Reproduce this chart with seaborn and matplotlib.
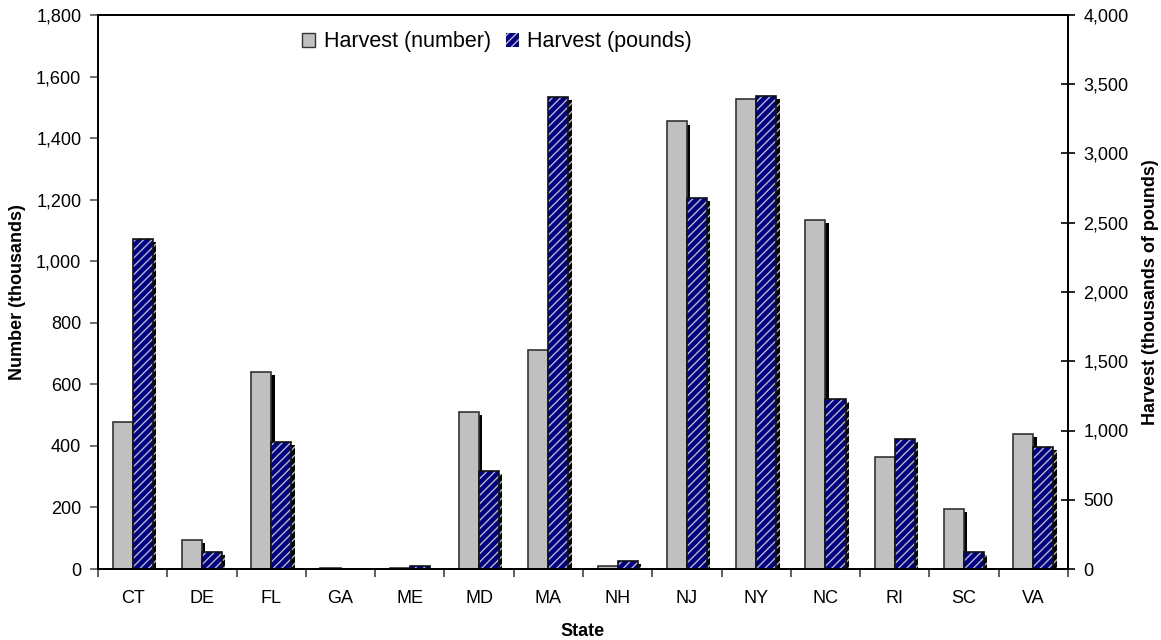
import matplotlib
matplotlib.use('Agg')
import matplotlib.pyplot as plt
import matplotlib.patheffects as pe
from matplotlib.patches import Patch
from matplotlib.ticker import FuncFormatter
import pandas as pd
import seaborn as sns

states = ['CT', 'DE', 'FL', 'GA', 'ME', 'MD', 'MA', 'NH', 'NJ', 'NY', 'NC', 'RI', 'SC', 'VA']
harvest_number = [478, 93, 641, 4, 4, 511, 712, 10, 1454, 1528, 1133, 365, 196, 440]
harvest_pounds = [2383, 121, 914, 3, 22, 708, 3405, 60, 2676, 3418, 1227, 936, 125, 883]

left_ticks = list(range(0, 1801, 200))
right_ticks = list(range(0, 4001, 500))

GRAY = '#c0c0c0'
NAVY = '#000080'
W = 0.29

sns.set_theme(style='white')
plt.rcParams['font.family'] = ['Liberation Sans', 'DejaVu Sans']
plt.rcParams['hatch.linewidth'] = 1.0
plt.rcParams['text.color'] = 'black'
plt.rcParams['axes.labelcolor'] = 'black'
plt.rcParams['xtick.color'] = 'black'
plt.rcParams['ytick.color'] = 'black'

df = pd.DataFrame({'State': states, 'number': harvest_number, 'pounds': harvest_pounds})

fig = plt.figure(figsize=(11.61, 6.4), dpi=100)
ax = fig.add_axes([98 / 1161, 1 - 569 / 640, (1068 - 98) / 1161, (569 - 15) / 640])
ax2 = ax.twinx()

shadow = [pe.SimplePatchShadow(offset=(2.4, -2.2), shadow_rgbFace='black', alpha=1), pe.Normal()]

# harvest in numbers, left axis
sns.barplot(data=df, x='State', y='number', ax=ax, width=W, color=GRAY,
            saturation=1, errorbar=None)
for p in ax.patches:
    p.set_x(p.get_x() - W / 2)
    p.set_facecolor(GRAY)
    p.set_edgecolor('#333333')
    p.set_linewidth(1.2)
    p.set_path_effects(shadow)

# harvest in pounds, right axis: hatched fill then outline
sns.barplot(data=df, x='State', y='pounds', ax=ax2, width=W, color=NAVY,
            saturation=1, errorbar=None)
n_fill = len(ax2.patches)
for p in ax2.patches:
    p.set_x(p.get_x() + W / 2)
    p.set_facecolor(NAVY)
    p.set_edgecolor('#b8b8c8')
    p.set_hatch('////')
    p.set_linewidth(0)
    p.set_path_effects(shadow)

sns.barplot(data=df, x='State', y='pounds', ax=ax2, width=W, color='black',
            saturation=1, errorbar=None, fill=False)
for p in ax2.patches[n_fill:]:
    p.set_x(p.get_x() + W / 2)
    p.set_facecolor('none')
    p.set_edgecolor('#111111')
    p.set_linewidth(1.2)

ax.set_xlim(-0.5, len(states) - 0.5)
ax.set_ylim(0, 1800)
ax2.set_ylim(0, 4000)
ax.set_yticks(left_ticks)
ax2.set_yticks(right_ticks)
comma = FuncFormatter(lambda v, _: f'{v:,.0f}')
ax.yaxis.set_major_formatter(comma)
ax2.yaxis.set_major_formatter(comma)

ax.set_xticks(range(len(states)))
ax.set_xticklabels(states)
ax.set_xticks([i - 0.5 for i in range(len(states) + 1)], minor=True)
ax.tick_params(axis='x', which='major', length=0, labelsize=13, pad=15)
ax.tick_params(axis='x', which='minor', bottom=True, direction='out', length=6,
               width=1.2, color='#444444')
ax.tick_params(axis='y', left=True, direction='out', length=6, width=1.2,
               color='#555555', labelsize=13, pad=6)
ax2.tick_params(axis='y', right=True, direction='inout', length=10, width=1.2,
                color='black', labelsize=13, pad=6)

for a in (ax, ax2):
    for s in a.spines.values():
        s.set_color('black')
        s.set_linewidth(1.3)

ax.set_xlabel('State', fontweight='bold', fontsize=13, labelpad=12)
ax.set_ylabel('Number (thousands)', fontweight='bold', fontsize=13, labelpad=7)
ax2.set_ylabel('Harvest (thousands of pounds)', fontweight='bold', fontsize=13, labelpad=10)

handles = [Patch(facecolor=GRAY, edgecolor='#333333', linewidth=1),
           Patch(facecolor=NAVY, edgecolor='#b8b8c8', hatch='////', linewidth=0)]
fig.legend(handles, ['Harvest (number)', 'Harvest (pounds)'], loc='center left',
           bbox_to_anchor=(302 / 1161, 1 - 42 / 640), ncol=2, frameon=False,
           fontsize=15.5, handlelength=0.6, handleheight=0.6, handletextpad=0.4,
           columnspacing=0.7, borderpad=0, borderaxespad=0)

fig.savefig('out.png', dpi=100)
